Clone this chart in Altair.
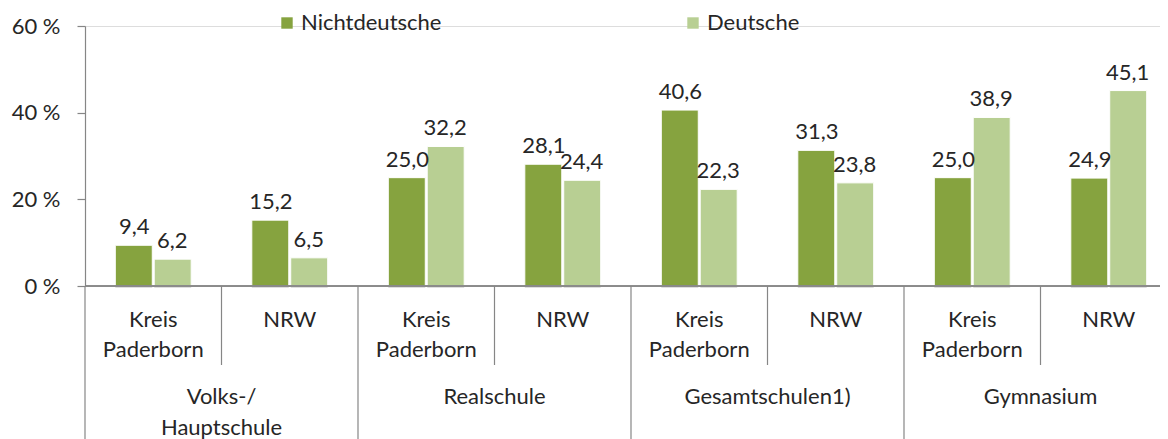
import altair as alt
import pandas as pd

# ---- data ----
groups = ["Volks-/\nHauptschule", "Realschule", "Gesamtschulen1)", "Gymnasium"]
regions = ["Kreis\nPaderborn", "NRW"]
series = ["Nichtdeutsche", "Deutsche"]
nichtdeutsche = [9.4, 15.2, 25.0, 28.1, 40.6, 31.3, 25.0, 24.9]
deutsche = [6.2, 6.5, 32.2, 24.4, 22.3, 23.8, 38.9, 45.1]
y_ticks = [0, 20, 40, 60]

FONT = "Lato"
FS = 22
TXT = "#262626"
AX = "#868686"
COLORS = ["#86A33F", "#B8CF93"]

subs, sub_rows = [], []
for g in groups:
    for r in regions:
        key = g + "|" + r
        subs.append(key)
        sub_rows.append({"sub": key, "group": g, "region": r, "is_nrw": r == "NRW"})

rows = []
for k, srow in enumerate(sub_rows):
    rows.append({"sub": srow["sub"], "series": series[0], "value": nichtdeutsche[k]})
    rows.append({"sub": srow["sub"], "series": series[1], "value": deutsche[k]})
df = pd.DataFrame(rows)
sub_df = pd.DataFrame(sub_rows)
grp_df = pd.DataFrame({"group": groups})

VIEW_W = 1075      # visible plot width (page is cut at the right edge)
RANGE = [0, 1092]  # full category axis, partly beyond the visible page
PH = 260


def band(domain, pi=0.0, po=0.0):
    return alt.Scale(domain=domain, range=RANGE, paddingInner=pi, paddingOuter=po)


bar_x = alt.X("sub:N", axis=None, scale=band(subs, 0.444, 0.222))
bar_xo = alt.XOffset("series:N", scale=alt.Scale(domain=series, paddingInner=0.05))
y_enc = alt.Y("value:Q", scale=alt.Scale(domain=[0, 60], nice=False, zero=True),
              axis=alt.Axis(values=y_ticks, labelExpr="datum.value + ' %'", grid=False, title=None,
                            domainColor=AX, tickColor=AX, tickSize=8, labelFont=FONT,
                            labelFontSize=FS, labelColor=TXT, labelPadding=17, domainWidth=1.2,
                            tickWidth=1.2))

base = alt.Chart(df)

shadow = base.mark_bar(color="#000000", opacity=0.13, xOffset=2, yOffset=2).encode(
    x=bar_x, xOffset=bar_xo, y=y_enc)

bars = base.mark_bar(stroke="white", strokeWidth=1).encode(
    x=bar_x, xOffset=bar_xo, y=y_enc,
    color=alt.Color("series:N", scale=alt.Scale(domain=series, range=COLORS),
                    legend=alt.Legend(title=None, orient="none", legendX=191, legendY=-14,
                                      direction="horizontal", symbolType="square",
                                      symbolSize=130, symbolStrokeWidth=0, labelFont=FONT,
                                      labelFontSize=FS, labelColor=TXT, labelLimit=400,
                                      labelOffset=3, columnPadding=240, padding=0)))

vals = base.transform_calculate(
    lab="replace(format(datum.value, '.1f'), '.', ',')"
).mark_text(baseline="alphabetic", dy=-11, font=FONT, fontSize=FS, color=TXT).encode(
    x=bar_x, xOffset=bar_xo, y="value:Q", text="lab:N")

sub_labels = alt.Chart(sub_df).mark_text(baseline="alphabetic", lineBreak="\n", lineHeight=30,
                                         font=FONT, fontSize=FS, color=TXT).encode(
    x=alt.X("sub:N", axis=None, scale=band(subs)), y=alt.value(301), text="region:N")

sub_sep = alt.Chart(sub_df).transform_filter("datum.is_nrw").mark_rule(color=AX, strokeWidth=1.2).encode(
    x=alt.X("sub:N", axis=None, bandPosition=0, scale=band(subs)),
    y=alt.value(PH), y2=alt.value(339))

grp_labels = alt.Chart(grp_df).mark_text(baseline="alphabetic", lineBreak="\n", lineHeight=31,
                                         font=FONT, fontSize=FS, color=TXT).encode(
    x=alt.X("group:N", axis=None, scale=band(groups)), y=alt.value(378), text="group:N")

grp_sep = alt.Chart(grp_df).mark_rule(color=AX, strokeWidth=1.2).encode(
    x=alt.X("group:N", axis=None, bandPosition=0, scale=band(groups)),
    y=alt.value(PH), y2=alt.value(420))

baseline = alt.Chart(grp_df).mark_rule(color=AX, strokeWidth=1.2).encode(
    x=alt.value(0), x2=alt.value(RANGE[1]), y=alt.value(PH))

chart = alt.layer(shadow, bars, vals, baseline, sub_sep, grp_sep, sub_labels, grp_labels).resolve_scale(
    x="independent", xOffset="independent"
).properties(
    width=VIEW_W, height=PH,
    autosize=alt.AutoSizeParams(type="none"),
    padding={"left": 77, "top": 18, "right": 0, "bottom": 153},
).configure_view(stroke=None).configure(background="white")

chart.save("out.html", embed_options={"renderer": "svg", "actions": False})
